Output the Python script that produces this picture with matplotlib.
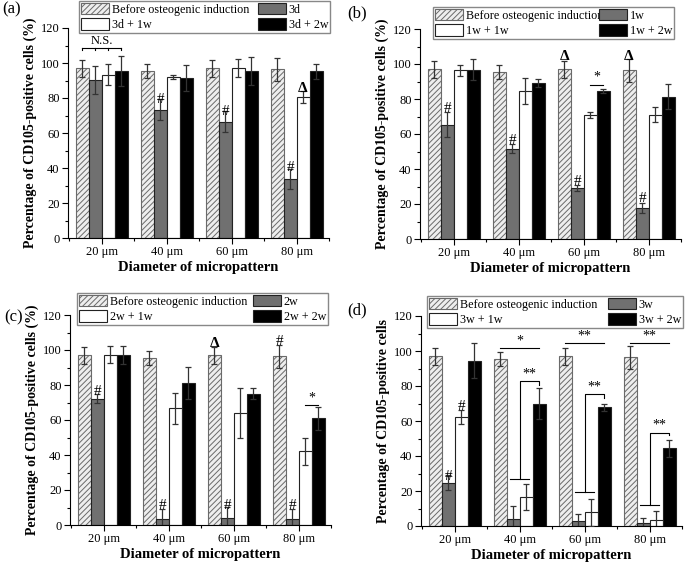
import numpy as np
import matplotlib.pyplot as plt
from matplotlib.ticker import MultipleLocator

plt.rcParams['font.family'] = ['Liberation Serif', 'DejaVu Serif']
plt.rcParams['hatch.linewidth'] = 0.7

sizes = ['20 μm', '40 μm', '60 μm', '80 μm']
before = [97, 95.2, 97, 96.5]
before_err = [5, 4, 5, 6.5]

# (a) 3d
a_names = ['3d', '3d + 1w', '3d + 2w']
a_s1 = [90.5, 73.3, 66.5, 33.5]
a_s1_err = [8, 6, 6, 5.7]
a_s2 = [93.3, 92, 97.1, 80.6]
a_s2_err = [6, 1, 5, 3.5]
a_s3 = [95.2, 91.4, 95.4, 95.2]
a_s3_err = [8.6, 7.6, 8, 4.2]

# (b) 1w
b_names = ['1w', '1w + 1w', '1w + 2w']
b_s1 = [65.3, 51.7, 29.3, 17.8]
b_s1_err = [7, 2.6, 1.6, 3]
b_s2 = [96.3, 84.6, 70.8, 71.1]
b_s2_err = [3.3, 7.6, 1.6, 4.3]
b_s3 = [96.6, 89.1, 84.6, 81.3]
b_s3_err = [6, 2.5, 1.2, 7]

# (c) 2w
c_names = ['2w', '2w + 1w', '2w + 2w']
c_s1 = [72.2, 3.6, 4.1, 3.6]
c_s1_err = [2.5, 5.7, 6.2, 5.7]
c_s2 = [97.3, 66.6, 64.2, 42.1]
c_s2_err = [5, 9, 14.3, 7.6]
c_s3 = [97.0, 81.2, 75.1, 61.0]
c_s3_err = [5.2, 9.2, 3.3, 6.6]

# (d) 3w
d_names = ['3w', '3w + 1w', '3w + 2w']
d_s1 = [24.8, 4.2, 2.8, 1.8]
d_s1_err = [4.5, 7, 4, 3]
d_s2 = [62.3, 16.8, 7.8, 3.2]
d_s2_err = [3.8, 7.4, 7.6, 5.2]
d_s3 = [94.4, 70.0, 67.8, 44.5]
d_s3_err = [9.9, 8.6, 1.9, 4.8]

ylab = 'Percentage of CD105-positive cells (%)'
ylab_d = 'Percentage of CD105-positive cells'

# markers: (group, bar, y, text)
a_marks = [(1, 1, 79, '#'), (2, 1, 72.5, '#'), (3, 1, 40.5, '#'), (3, 2, 85.5, 'Δ')]
b_marks = [(0, 1, 74.5, '#'), (1, 1, 56.5, '#'), (2, 1, 33, '#'), (3, 1, 23, '#'),
           (2, 0, 104, 'Δ'), (3, 0, 104, 'Δ')]
c_marks = [(0, 1, 76.5, '#'), (1, 1, 11, '#'), (2, 1, 11, '#'), (3, 1, 11, '#'),
           (2, 0, 103.5, 'Δ'), (3, 0, 105, '#')]
d_marks = [(0, 1, 28.5, '#'), (0, 2, 68.5, '#')]

hatched_col = '#6a6a6a'
colors = ['#707070', 'white', 'black']

fig = plt.figure(figsize=(6.85, 5.65), dpi=100)

panels = [
    ('(a)', [68, 238], a_names, [a_s1, a_s2, a_s3], [a_s1_err, a_s2_err, a_s3_err], a_marks,
     [79, 1, 251], (2, 9), ylab),
    ('(b)', [420, 239], b_names, [b_s1, b_s2, b_s3], [b_s1_err, b_s2_err, b_s3_err], b_marks,
     [433, 7, 241], (347, 13), ylab),
    ('(c)', [70, 525], c_names, [c_s1, c_s2, c_s3], [c_s1_err, c_s2_err, c_s3_err], c_marks,
     [77, 293, 251], (4, 317), ylab),
    ('(d)', [421, 526], d_names, [d_s1, d_s2, d_s3], [d_s1_err, d_s2_err, d_s3_err], d_marks,
     [427, 296, 256], (347, 310), ylab_d),
]

W, H = 685, 565
x = np.arange(4)
bw = 0.2
axes = []
for tag, (lx, by), names, series, errs, marks, leg, tpos, yl_text in panels:
    ax = fig.add_axes([lx / W, 1 - by / H, 261 / W, 210 / H])
    axes.append(ax)
    b0 = ax.bar(x - 0.3, before, bw, color='#eeeeee', edgecolor=hatched_col, hatch='//////',
                linewidth=0.8, label='Before osteogenic induction', zorder=2)
    ax.errorbar(x - 0.3, before, yerr=before_err, fmt='none', ecolor='#333333',
                elinewidth=0.9, capsize=2.3, capthick=0.9, zorder=3)
    handles = [b0]
    for i in range(3):
        xi = x + (-0.1 + 0.2 * i)
        bb = ax.bar(xi, series[i], bw, color=colors[i], edgecolor='#222222', linewidth=0.8,
                    label=names[i], zorder=2)
        ax.errorbar(xi, series[i], yerr=errs[i], fmt='none', ecolor='#333333',
                    elinewidth=0.9, capsize=2.3, capthick=0.9, zorder=3)
        handles.append(bb)
    for g, j, yv, t in marks:
        ax.text(g - 0.3 + 0.2 * j, yv, t, ha='center', va='center', fontsize=11,
                fontweight='bold' if t == 'Δ' else 'normal', zorder=4)

    ax.set_xlim(-0.52, 3.5)
    ax.set_ylim(0, 120)
    ax.set_xticks(x)
    ax.set_xticklabels(sizes, fontsize=9)
    ax.xaxis.set_minor_locator(MultipleLocator(0.5))
    ax.yaxis.set_major_locator(MultipleLocator(20))
    ax.yaxis.set_minor_locator(MultipleLocator(10))
    ax.tick_params(axis='both', which='major', direction='out', length=4, width=0.8, labelsize=9, pad=2)
    ax.tick_params(axis='both', which='minor', direction='out', length=2, width=0.8)
    for s in ['top', 'right']:
        ax.spines[s].set_visible(False)
    for s in ['left', 'bottom']:
        ax.spines[s].set_linewidth(0.8)
    ax.set_xlabel('Diameter of micropattern', fontsize=10.5, fontweight='bold', labelpad=2)
    ax.set_ylabel(yl_text, fontsize=10, fontweight='bold', labelpad=3)

    order = [handles[0], handles[2], handles[1], handles[3]]
    lx0, ly0, lw = leg
    ax.legend(order, [h.get_label() for h in order], ncol=2, mode='expand',
              loc='upper left', bbox_to_anchor=(lx0 / W, 1 - ly0 / H, lw / W, 0.0),
              bbox_transform=fig.transFigure, fontsize=8.7, frameon=True, fancybox=False,
              edgecolor='#888888', framealpha=1, handlelength=2.3, handleheight=1.1,
              handletextpad=0.25, labelspacing=0.2, borderpad=0.15, borderaxespad=0,
              columnspacing=0.2)
    fig.text(tpos[0] / W, 1 - tpos[1] / H, tag, fontsize=12, ha='left', va='center')

# (a) N.S. comb bracket
ax = axes[0]
ax.plot([-0.3, 0.3], [108.6, 108.6], color='k', lw=0.8)
for xo in [-0.3, -0.1, 0.1, 0.3]:
    ax.plot([xo, xo], [108.6, 107.2], color='k', lw=0.8)
ax.text(0, 109.3, 'N.S.', ha='center', va='bottom', fontsize=9)

# (b), (c) single star lines
for ax, g, yl in [(axes[1], 2, 88.2), (axes[2], 3, 68.6)]:
    ax.plot([g + 0.1, g + 0.3], [yl, yl], color='k', lw=0.8)
    ax.text(g + 0.2, yl + 0.5, '*', ha='center', va='bottom', fontsize=10)

# (d) significance lines and brackets
ax = axes[3]
for g, yl, t in [(1, 101.5, '*'), (2, 104.3, '**'), (3, 104.3, '**')]:
    ax.plot([g - 0.3, g + 0.3], [yl, yl], color='k', lw=0.8)
    ax.text(g, yl + 0.5, t, ha='center', va='bottom', fontsize=10)
for g, ytop, ylow, yright in [(1, 82.8, 26.7, 80.5), (2, 75.2, 19.5, 73.4), (3, 53.4, 11.8, 51.9)]:
    ax.plot([g, g, g + 0.3, g + 0.3], [ylow, ytop, ytop, yright], color='k', lw=0.8)
    ax.plot([g - 0.15, g + 0.15], [ylow, ylow], color='k', lw=0.8)
    ax.text(g + 0.15, ytop + 0.5, '**', ha='center', va='bottom', fontsize=10)

fig.savefig('out.png', dpi=100)
